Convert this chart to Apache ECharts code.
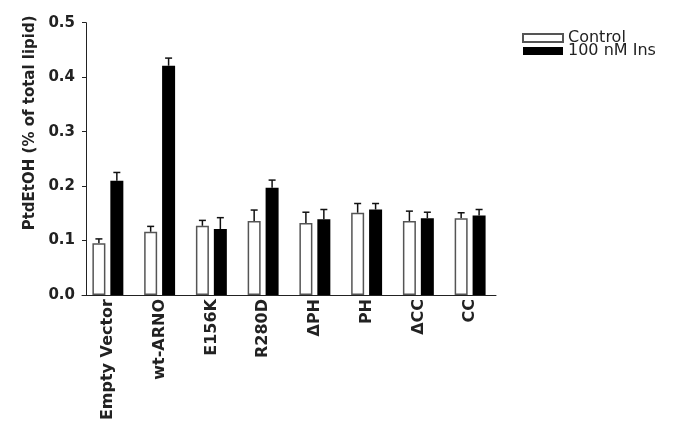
<!DOCTYPE html>
<html>
<head>
<meta charset="utf-8">
<script src="https://cdn.jsdelivr.net/npm/echarts@6/dist/echarts.min.js"></script>
<style>html,body{margin:0;padding:0;background:#fff}#c{width:685px;height:437px}</style>
</head>
<body>
<div id="c"></div>
<script>
const categories = ['Empty Vector', 'wt-ARNO', 'E156K', 'R280D', '\u0394PH', 'PH', '\u0394CC', 'CC'];
const controlValues = [0.095, 0.116, 0.127, 0.136, 0.132, 0.151, 0.136, 0.141];
const controlErrors = [0.008, 0.010, 0.010, 0.020, 0.020, 0.017, 0.018, 0.010];
const insValues = [0.210, 0.421, 0.121, 0.197, 0.139, 0.157, 0.141, 0.146];
const insErrors = [0.015, 0.014, 0.021, 0.014, 0.018, 0.011, 0.011, 0.011];
const yTicks = [0.0, 0.1, 0.2, 0.3, 0.4, 0.5];

const FONT = '"DejaVu Sans", sans-serif';
const BAR_W = 13;
const GAP_RATIO = 0.38;
const SIDE = (BAR_W + BAR_W * GAP_RATIO) / 2;

function errSeries(name, vals, errs, side) {
  return {
    name: name + ' err',
    type: 'custom',
    silent: true,
    z: 1,
    data: vals.map((v, i) => [i, v, errs[i]]),
    renderItem: function (params, api) {
      const i = api.value(0), v = api.value(1), e = api.value(2);
      const base = api.coord([i, v]);
      const top = api.coord([i, v + e]);
      const x = base[0] + side * SIDE;
      const cap = 3.5;
      return {
        type: 'group',
        children: [
          { type: 'line', shape: { x1: x, y1: base[1], x2: x, y2: top[1] }, style: { stroke: '#111', lineWidth: 1.5 } },
          { type: 'line', shape: { x1: x - cap, y1: top[1], x2: x + cap, y2: top[1] }, style: { stroke: '#111', lineWidth: 1.5 } }
        ]
      };
    }
  };
}

const chart = echarts.init(document.getElementById('c'), null, { renderer: 'canvas' });
chart.setOption({
  animation: false,
  backgroundColor: '#fff',
  textStyle: { fontFamily: FONT },
  grid: { left: 82, width: 414, top: 22.7, bottom: 142 },
  legend: {
    left: 522, top: 30, padding: 0, orient: 'vertical', itemWidth: 40, itemHeight: 8, itemGap: -3,
    icon: 'rect', align: 'left',
    textStyle: { fontSize: 16, lineHeight: 13, color: '#222', fontFamily: FONT },
    data: ['Control', '100 nM Ins']
  },
  xAxis: {
    type: 'category',
    data: categories,
    axisLine: { show: true, lineStyle: { color: '#222', width: 1 } },
    axisTick: { show: false },
    axisLabel: { rotate: 90, interval: 0, margin: 4, fontSize: 16, fontWeight: 'bold', color: '#222', fontFamily: FONT }
  },
  yAxis: {
    type: 'value',
    min: 0, max: 0.5, interval: 0.1,
    offset: -4,
    name: 'PtdEtOH (% of total lipid)',
    nameLocation: 'middle',
    nameGap: 41,
    nameTextStyle: { fontSize: 15, fontWeight: 'bold', color: '#222', fontFamily: FONT, padding: [0, 0, 0, 72] },
    axisLine: { show: true, lineStyle: { color: '#222', width: 1 } },
    axisTick: { show: true, length: 4, lineStyle: { color: '#222' } },
    splitLine: { show: false },
    axisLabel: { margin: 11, fontSize: 15, fontWeight: 'bold', color: '#222', fontFamily: FONT,
      formatter: v => yTicks.find(t => Math.abs(t - v) < 1e-9).toFixed(1) }
  },
  series: [
    { name: 'Control', type: 'bar', data: controlValues, barWidth: BAR_W, barGap: (GAP_RATIO * 100) + '%',
      itemStyle: { color: '#fff', borderColor: '#555', borderWidth: 1.5 }, z: 2 },
    { name: '100 nM Ins', type: 'bar', data: insValues, barWidth: BAR_W, barGap: (GAP_RATIO * 100) + '%',
      itemStyle: { color: '#000', borderColor: '#000', borderWidth: 0 }, z: 2 },
    errSeries('Control', controlValues, controlErrors, -1),
    errSeries('100 nM Ins', insValues, insErrors, 1)
  ]
});
</script>
</body>
</html>
